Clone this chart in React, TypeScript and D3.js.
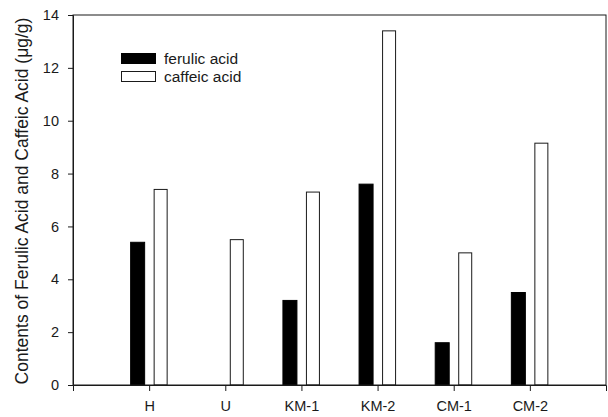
import { useEffect, useRef } from "react";
import * as d3 from "d3";

const SAMPLES = ["H", "U", "KM-1", "KM-2", "CM-1", "CM-2"];
const FERULIC = [5.4, 0, 3.2, 7.6, 1.6, 3.5];
const CAFFEIC = [7.4, 5.5, 7.3, 13.4, 5.0, 9.15];
const Y_TICKS = [0, 2, 4, 6, 8, 10, 12, 14];
const SERIES_LABELS = ["ferulic acid", "caffeic acid"];

const W = 608;
const H = 417;
const FONT = "'Liberation Sans', Arial, sans-serif";
const INK = "#1a1a1a";

export default function App() {
  const svgRef = useRef<SVGSVGElement>(null);

  useEffect(() => {
    const svg = d3.select(svgRef.current);
    svg.selectAll("*").remove();
    const margin = { top: 15, right: 2, bottom: 32, left: 73 };
    const iw = W - margin.left - margin.right;
    const ih = H - margin.top - margin.bottom;

    const x = d3.scalePoint<string>().domain(SAMPLES).range([0, iw]).padding(1);
    const y = d3.scaleLinear().domain([0, 14]).range([ih, 0]);

    const g = svg
      .append("g")
      .attr("transform", `translate(${margin.left},${margin.top})`);

    const barW = 14;
    const gap = 4.5;

    // ferulic (black, left of tick)
    g.selectAll("rect.fer")
      .data(SAMPLES.map((s, i) => ({ s, v: FERULIC[i] })).filter((d) => d.v > 0))
      .join("rect")
      .attr("class", "fer")
      .attr("x", (d) => x(d.s)! - gap - barW)
      .attr("y", (d) => y(d.v))
      .attr("width", barW)
      .attr("height", (d) => ih - y(d.v))
      .attr("fill", "#000")
      .attr("stroke", "#000")
      .attr("stroke-width", 1);

    // caffeic (white, right of tick)
    g.selectAll("rect.caf")
      .data(SAMPLES.map((s, i) => ({ s, v: CAFFEIC[i] })))
      .join("rect")
      .attr("class", "caf")
      .attr("x", (d) => x(d.s)! + gap + 0.5)
      .attr("y", (d) => y(d.v))
      .attr("width", barW - 1)
      .attr("height", (d) => ih - y(d.v))
      .attr("fill", "#fff")
      .attr("stroke", INK)
      .attr("stroke-width", 1);

    // frame
    g.append("rect")
      .attr("x", 0)
      .attr("y", 0)
      .attr("width", iw)
      .attr("height", ih)
      .attr("fill", "none")
      .attr("stroke", INK)
      .attr("stroke-width", 1);

    const yAxis = g
      .append("g")
      .call(d3.axisLeft(y).tickValues(Y_TICKS).tickSize(5).tickPadding(9).tickFormat(d3.format("d")));
    yAxis.select(".domain").attr("stroke", INK);
    yAxis.selectAll("line").attr("stroke", INK);
    yAxis
      .selectAll("text")
      .attr("fill", INK)
      .attr("font-size", 14.5)
      .attr("font-family", FONT);

    const xAxis = g
      .append("g")
      .attr("transform", `translate(0,${ih})`)
      .call(d3.axisBottom(x).tickSize(6).tickPadding(10));
    xAxis.select(".domain").attr("stroke", INK);
    xAxis.selectAll("line").attr("stroke", INK);
    xAxis
      .selectAll("text")
      .attr("fill", INK)
      .attr("font-size", 14.5)
      .attr("font-family", FONT);

    // y label
    svg
      .append("text")
      .attr("transform", `translate(28,${margin.top + ih / 2 + 1}) rotate(-90)`)
      .attr("text-anchor", "middle")
      .attr("fill", INK)
      .attr("font-size", 17.5)
      .attr("font-family", FONT)
      .text("Contents of Ferulic Acid and Caffeic Acid (μg/g)");

    // legend
    const lg = svg.append("g").attr("transform", "translate(121,53)");
    SERIES_LABELS.forEach((lab, i) => {
      lg.append("rect")
        .attr("x", 0.5)
        .attr("y", i * 18 + 0.5)
        .attr("width", 34)
        .attr("height", 10)
        .attr("fill", i === 0 ? "#000" : "#fff")
        .attr("stroke", i === 0 ? "#000" : INK);
      lg.append("text")
        .attr("x", 43)
        .attr("y", i * 18 + 10.5)
        .attr("fill", INK)
        .attr("font-size", 15.5)
        .attr("font-family", FONT)
        .text(lab);
    });
  }, []);

  return (
    <svg
      ref={svgRef}
      width={W}
      height={H}
      style={{ position: "absolute", left: 0, top: 0, background: "#fff" }}
    />
  );
}
